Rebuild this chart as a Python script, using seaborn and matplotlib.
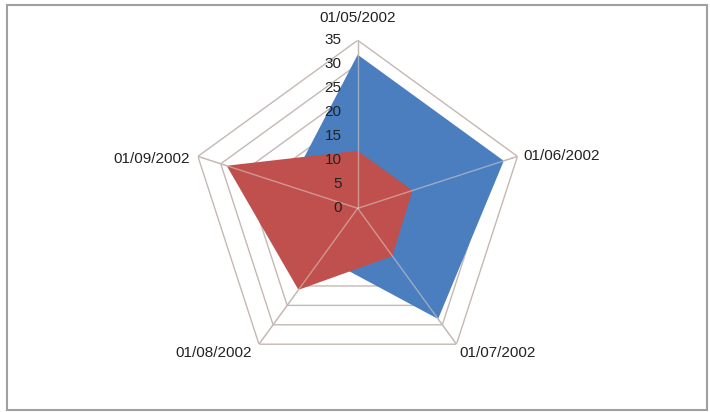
import numpy as np
import matplotlib
matplotlib.use("Agg")
import matplotlib.pyplot as plt
import seaborn as sns
from matplotlib.patches import Rectangle

sns.set_style("white")
plt.rcParams['font.family'] = ['Liberation Sans', 'DejaVu Sans']

categories = ["01/05/2002", "01/06/2002", "01/07/2002", "01/08/2002", "01/09/2002"]
series_blue = [32, 32, 28.5, 12.5, 15]
series_red = [12, 12, 12.3, 21, 28.7]
ring_values = [0, 5, 10, 15, 20, 25, 30, 35]

blue = "#4A7EBF"
red = "#C0504D"
grid_col = "#C4B8B3"
text_col = "#222222"

n = len(categories)
theta = np.linspace(0, 2 * np.pi, n, endpoint=False)
theta_closed = np.append(theta, theta[0])

fig = plt.figure(figsize=(7.10, 4.12), dpi=100)
cx, cy = 357.7 / 710, (412 - 208.3) / 412
w, h = 336 / 710, 336 / 412
ax = fig.add_axes([cx - w / 2, cy - h / 2, w, h], projection="polar")
ax.set_theta_offset(np.pi / 2)
ax.set_theta_direction(-1)
ax.set_ylim(0, 35)
ax.grid(False)
ax.set_xticks([])
ax.set_yticks([])
ax.spines['polar'].set_visible(False)
ax.patch.set_alpha(0)

# rings
for r in ring_values[1:]:
    ax.plot(theta_closed, [r] * (n + 1), color=grid_col, lw=1.0, zorder=1)


def closed(vals):
    return np.append(vals, vals[0])


ax.fill(theta_closed, closed(series_blue), color=blue, zorder=2, lw=0)
ax.fill(theta_closed, closed(series_red), color=red, zorder=3, lw=0)

# spokes: faint over the fills, full colour outside them
for i, t in enumerate(theta):
    ax.plot([t, t], [0, 35], color="#E0D0C8", lw=1.0, alpha=0.55, zorder=4)
    outer = max(series_blue[i], series_red[i])
    ax.plot([t, t], [outer, 35], color=grid_col, lw=1.0, zorder=4)

# radial value labels
for r in ring_values:
    ax.annotate(str(r), xy=(0, r), xytext=(-11.5, 0), textcoords="offset points",
                ha="right", va="center", fontsize=11, color=text_col, zorder=5,
                annotation_clip=False)

# category labels
label_specs = [
    ((0, 11), "center", "bottom"),
    ((4, 0), "left", "center"),
    ((2, -1), "left", "top"),
    ((-5, -1), "right", "top"),
    ((-6, -2), "right", "center"),
]
for t, lab, (off, ha, va) in zip(theta, categories, label_specs):
    ax.annotate(lab, xy=(t, 35), xytext=off, textcoords="offset points",
                ha=ha, va=va, fontsize=11, color=text_col, annotation_clip=False)

fig.patches.append(Rectangle((7 / 710, 2 / 412), 700 / 710, 405 / 412,
                             transform=fig.transFigure, fill=False,
                             edgecolor="#A0A0A0", lw=1.5))

fig.savefig("out.png", dpi=100)
